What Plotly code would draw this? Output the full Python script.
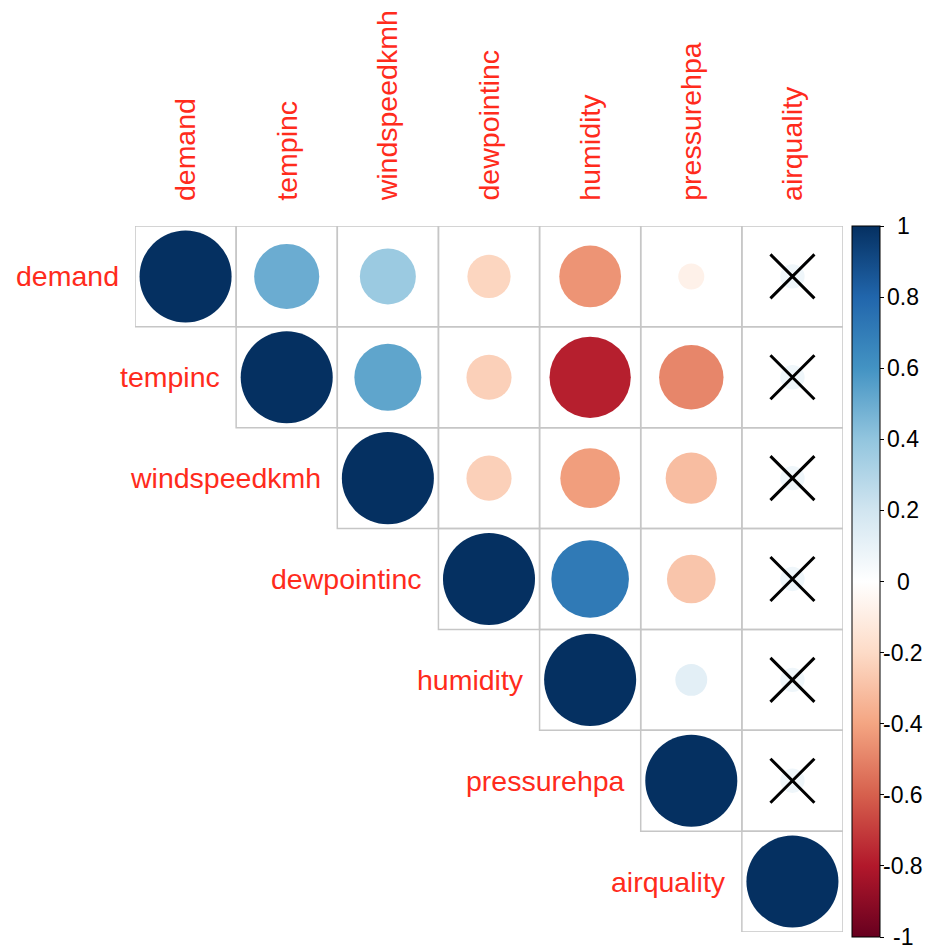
import numpy as np
import plotly.graph_objects as go

# Variables (rows and columns of the correlation matrix)
variables = ["demand", "tempinc", "windspeedkmh", "dewpointinc",
             "humidity", "pressurehpa", "airquality"]

# Upper-triangle correlation coefficients, one list per row (starting at the diagonal)
corr_demand = [1.00, 0.50, 0.37, -0.22, -0.45, -0.08, 0.07]
corr_tempinc = [1.00, 0.53, -0.24, -0.78, -0.49, 0.07]
corr_windspeedkmh = [1.00, -0.24, -0.42, -0.31, 0.07]
corr_dewpointinc = [1.00, 0.71, -0.28, 0.07]
corr_humidity = [1.00, 0.12, 0.07]
corr_pressurehpa = [1.00, 0.07]
corr_airquality = [1.00]

# Pairs whose correlation is not significant (crossed out)
insignificant_pairs = [("demand", "airquality"), ("tempinc", "airquality"),
                       ("windspeedkmh", "airquality"), ("dewpointinc", "airquality"),
                       ("humidity", "airquality"), ("pressurehpa", "airquality")]

colorbar_ticks = [1, 0.8, 0.6, 0.4, 0.2, 0, -0.2, -0.4, -0.6, -0.8, -1]

rows = [corr_demand, corr_tempinc, corr_windspeedkmh, corr_dewpointinc,
        corr_humidity, corr_pressurehpa, corr_airquality]

# RdBu diverging palette (white centre) as used by corrplot
rdbu = ["#67001F", "#B2182B", "#D6604D", "#F4A582", "#FDDBC7", "#FFFFFF",
        "#D1E5F0", "#92C5DE", "#4393C3", "#2166AC", "#053061"]
colorscale = [[i / (len(rdbu) - 1), c] for i, c in enumerate(rdbu)]

# Page layout (pixels)
W, H = 930, 945
left, right_px, top, bottom_px = 135, 843, 226, 932
n = len(variables)
cell_px = (right_px - left) / n
label_font = dict(family="Liberation Sans, Arial, sans-serif", size=28.5, color="#FF2B1C")
tick_font = dict(family="Liberation Sans, Arial, sans-serif", size=23, color="black")

xs, ys, vals = [], [], []
for i, row in enumerate(rows):
    for k, v in enumerate(row):
        xs.append(i + k)
        ys.append(i)
        vals.append(v)
vals = np.array(vals)
sizes = 0.91 * cell_px * np.sqrt(np.abs(vals))

cb_top, cb_bottom = 226, 937
cb_len = cb_bottom - cb_top
plot_h = bottom_px - top
plot_w = right_px - left

fig = go.Figure()

# Grid cells for the upper triangle
for i in range(n):
    for j in range(i, n):
        fig.add_shape(type="rect", xref="x", yref="y",
                      x0=j - 0.5, x1=j + 0.5, y0=i - 0.5, y1=i + 0.5,
                      line=dict(color="#C6C6C6", width=1.5), layer="below")

fig.add_trace(go.Scatter(
    x=xs, y=ys, mode="markers",
    marker=dict(
        size=sizes, color=vals, cmin=-1, cmax=1, colorscale=colorscale,
        line=dict(width=0), opacity=1,
        colorbar=dict(
            thickness=28, thicknessmode="pixels",
            len=cb_len, lenmode="pixels",
            x=(852 - left) / plot_w, xanchor="left",
            y=1 + (top - cb_top) / plot_h, yanchor="top",
            xpad=0, ypad=0,
            outlinecolor="black", outlinewidth=1,
            tickvals=colorbar_ticks, ticks="outside", ticklen=4,
            tickcolor="black", showticklabels=False,
        ),
    ),
    hoverinfo="skip", showlegend=False,
))

# Crosses over non-significant coefficients
ix = {v: k for k, v in enumerate(variables)}
fig.add_trace(go.Scatter(
    x=[ix[b] for a, b in insignificant_pairs],
    y=[ix[a] for a, b in insignificant_pairs],
    mode="markers",
    marker=dict(symbol="x-thin", size=44, line=dict(color="black", width=3)),
    hoverinfo="skip", showlegend=False,
))

annotations = []
# Column labels (rotated)
for j, name in enumerate(variables):
    annotations.append(dict(
        x=j, xref="x", y=1 + (top - 203) / plot_h, yref="paper",
        text=name, textangle=-90, showarrow=False,
        xanchor="center", yanchor="bottom", font=label_font))
# Row labels, left of the diagonal cell
for i, name in enumerate(variables):
    annotations.append(dict(
        x=i - 0.5, xref="x", y=i, yref="y", text=name, showarrow=False,
        xanchor="right", yanchor="middle", xshift=-14, font=label_font))
# Colour-bar tick labels, centred beside the bar
for t in colorbar_ticks:
    pix = cb_top + (1 - t) / 2 * cb_len
    annotations.append(dict(
        x=(903 - left) / plot_w, xref="paper",
        y=(bottom_px - pix) / plot_h, yref="paper",
        text=f"{t:g}", showarrow=False, xanchor="center", yanchor="middle",
        font=tick_font))

fig.update_layout(
    width=W, height=H,
    margin=dict(l=left, r=W - right_px, t=top, b=H - bottom_px, pad=0),
    paper_bgcolor="white", plot_bgcolor="white",
    xaxis=dict(range=[-0.5, n - 0.5], visible=False, fixedrange=True),
    yaxis=dict(range=[n - 0.5, -0.5], visible=False, fixedrange=True),
    annotations=annotations,
)

fig.write_html("out.html")
